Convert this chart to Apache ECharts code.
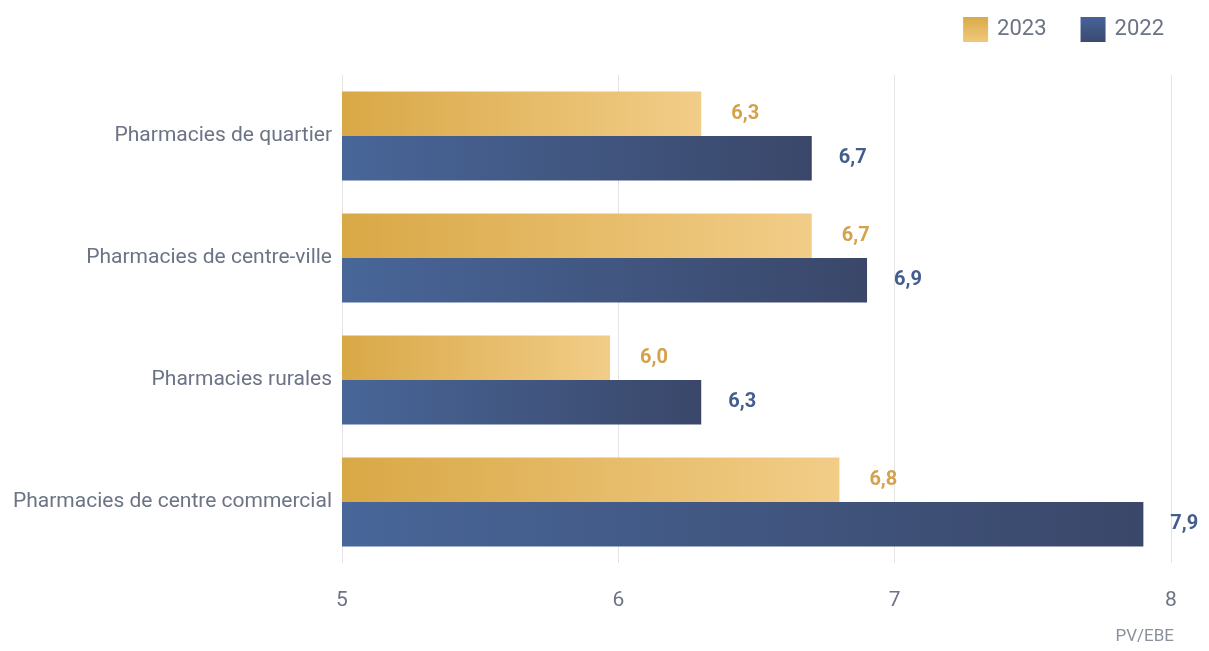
<!DOCTYPE html>
<html>
<head>
<meta charset="utf-8">
<script src="https://cdn.jsdelivr.net/npm/echarts@6/dist/echarts.min.js"></script>
<style>
  html, body { margin: 0; padding: 0; background: #fff; }
  #main { width: 1209px; height: 651px; }
</style>
</head>
<body>
<div id="main"></div>
<script>
// donnees
var categories = ['Pharmacies de quartier', 'Pharmacies de centre-ville', 'Pharmacies rurales', 'Pharmacies de centre commercial'];
var values2023 = [6.3, 6.7, 5.97, 6.8];
var values2022 = [6.7, 6.9, 6.3, 7.9];
var xTicks = [5, 6, 7, 8];

var myechart = echarts.init(document.getElementById('main'));

// degrade horizontal pour les barres, vertical pour la legende
function grad(c1, c2, vertical) {
  return new echarts.graphic.LinearGradient(0, 0, vertical ? 0 : 1, vertical ? 1 : 0, [
    { offset: 0, color: c1 },
    { offset: 1, color: c2 }
  ]);
}

function fmt(p) {
  return p.value.toFixed(1).replace('.', ',');
}

myechart.setOption({
  animation: false,
  textStyle: { fontFamily: 'Roboto' },
  legend: {
    data: [
      { name: '2023', icon: 'rect', itemStyle: { color: grad('#d9aa48', '#efc97c', true) } },
      { name: '2022', icon: 'rect', itemStyle: { color: grad('#47629a', '#3b4a6f', true) } }
    ],
    right: 40,
    top: 12,
    itemWidth: 25,
    itemHeight: 25,
    itemGap: 34,
    textStyle: { fontSize: 22, color: '#6b7385', padding: [5, 0, 0, 4] }
  },
  title: {
    text: 'PV/EBE',
    right: 30,
    bottom: 1,
    textStyle: { fontSize: 17, fontWeight: 'normal', color: '#8a909c' }
  },
  grid: {
    left: 342,
    right: 38,
    top: 75,
    bottom: 88
  },
  xAxis: {
    type: 'value',
    min: 5,
    max: 8,
    interval: 1,
    axisLine: { show: false },
    axisTick: { show: false },
    axisLabel: {
      fontSize: 21,
      color: '#6b7385',
      margin: 27,
      formatter: function (v) { return xTicks.indexOf(v) >= 0 ? String(v) : ''; }
    },
    splitLine: { lineStyle: { color: '#e4e4e4', width: 1 } }
  },
  yAxis: {
    type: 'category',
    data: categories,
    inverse: true,
    axisLine: { show: false },
    axisTick: { show: false },
    axisLabel: { fontSize: 21, color: '#6b7385', margin: 10 }
  },
  series: [
    {
      name: '2023',
      type: 'bar',
      data: values2023,
      barGap: '0%',
      barCategoryGap: '27%',
      itemStyle: { color: grad('#d9a846', '#f2cd88') },
      label: {
        show: true,
        position: 'right',
        distance: 30,
        formatter: fmt,
        fontSize: 20,
        fontWeight: 'bold',
        color: '#d4a24c'
      }
    },
    {
      name: '2022',
      type: 'bar',
      data: values2022,
      barGap: '0%',
      barCategoryGap: '27%',
      itemStyle: { color: grad('#486699', '#3a4769') },
      label: {
        show: true,
        position: 'right',
        distance: 27,
        formatter: fmt,
        fontSize: 20,
        fontWeight: 'bold',
        color: '#445d8f'
      }
    }
  ]
});
</script>
</body>
</html>
